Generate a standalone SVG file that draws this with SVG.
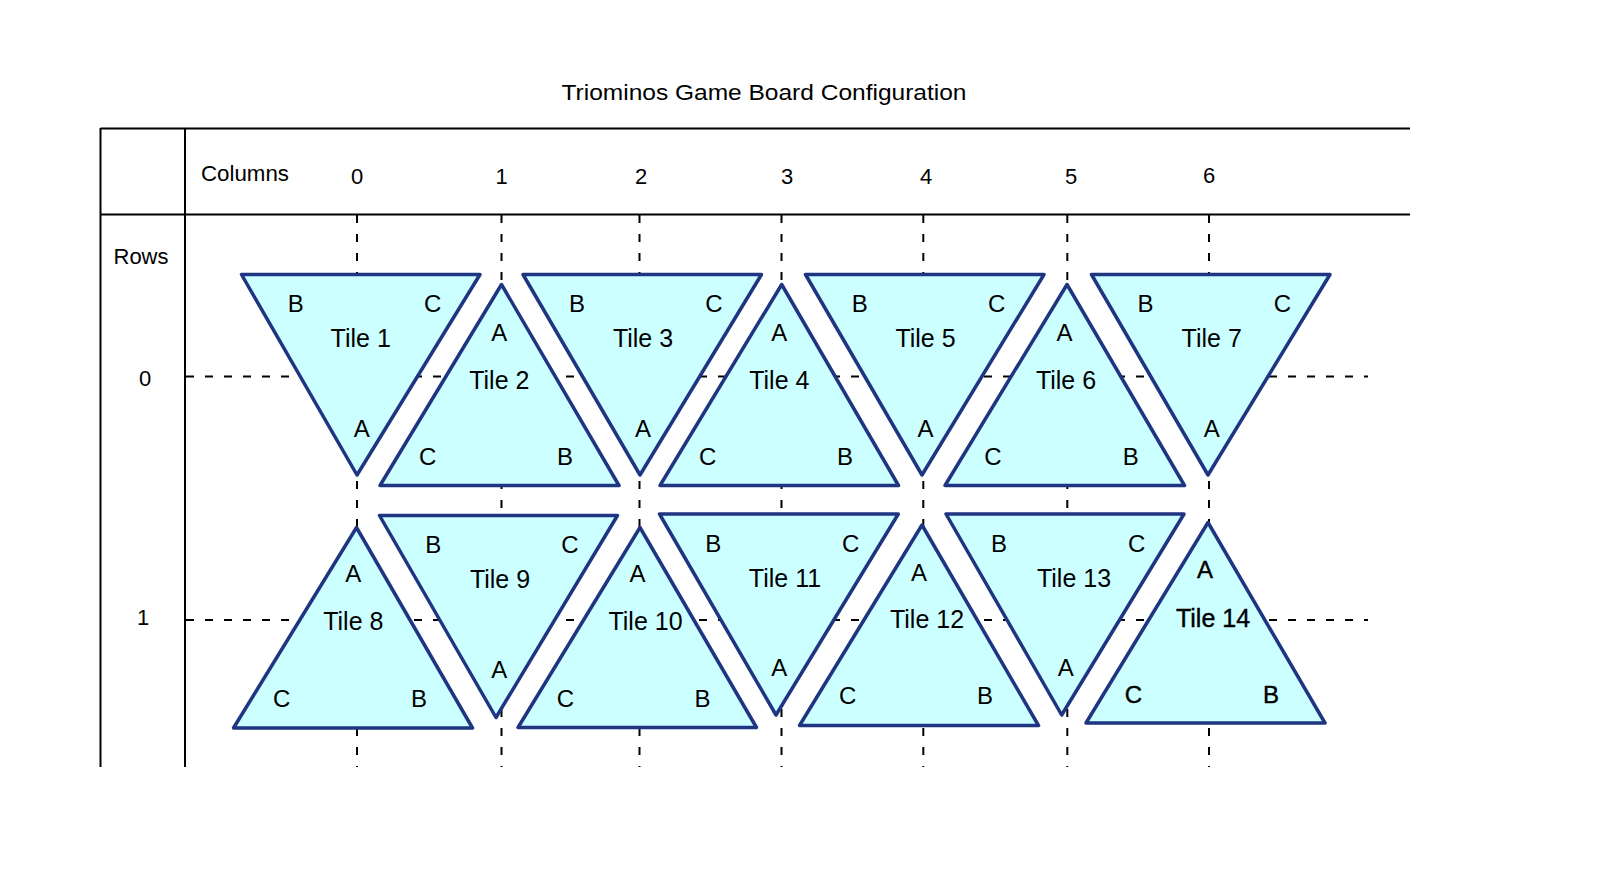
<svg xmlns="http://www.w3.org/2000/svg" width="1618" height="874" viewBox="0 0 1618 874">
<style>
.frame{stroke:#000;stroke-width:2;fill:none}
.dash{stroke:#000;stroke-width:2;fill:none;stroke-dasharray:8 11}
.tri{fill:#CCFFFF;stroke:#1F3582;stroke-width:3.5;stroke-linejoin:round}
.hdr{font-family:"Liberation Sans",Arial,sans-serif;font-size:22px;fill:#000;text-anchor:middle}
.lbl{font-family:"Liberation Sans",Arial,sans-serif;font-size:24px;fill:#000;text-anchor:middle}
.nm{font-family:"Liberation Sans",Arial,sans-serif;font-size:25px;fill:#000;text-anchor:middle}
.bold text{stroke:#000;stroke-width:0.4}
</style>
<rect width="1618" height="874" fill="#fff"/>
<text class="hdr" x="764" y="100" font-size="23" textLength="405" lengthAdjust="spacingAndGlyphs">Triominos Game Board Configuration</text>
<g id="frame">
<line class="frame" x1="100.5" y1="128.5" x2="1410" y2="128.5"/>
<line class="frame" x1="100.5" y1="214.5" x2="1410" y2="214.5"/>
<line class="frame" x1="100.5" y1="128" x2="100.5" y2="767"/>
<line class="frame" x1="185" y1="128" x2="185" y2="767"/>
<text class="hdr" x="245" y="181" textLength="88" lengthAdjust="spacingAndGlyphs">Columns</text>
<text class="hdr" x="357" y="184">0</text>
<text class="hdr" x="501.5" y="184">1</text>
<text class="hdr" x="641" y="184">2</text>
<text class="hdr" x="787" y="184">3</text>
<text class="hdr" x="926" y="184">4</text>
<text class="hdr" x="1071" y="184">5</text>
<text class="hdr" x="1209" y="183">6</text>
<text class="hdr" x="141" y="264" textLength="55" lengthAdjust="spacingAndGlyphs">Rows</text>
<text class="hdr" x="145" y="386">0</text>
<text class="hdr" x="143" y="625">1</text>
</g>
<g id="connectors">
<line class="dash" x1="357" y1="215" x2="357" y2="767"/>
<line class="dash" x1="501.5" y1="215" x2="501.5" y2="767"/>
<line class="dash" x1="639.5" y1="215" x2="639.5" y2="767"/>
<line class="dash" x1="781.5" y1="215" x2="781.5" y2="767"/>
<line class="dash" x1="923.3" y1="215" x2="923.3" y2="767"/>
<line class="dash" x1="1067.3" y1="215" x2="1067.3" y2="767"/>
<line class="dash" x1="1209" y1="215" x2="1209" y2="767"/>
<line class="dash" x1="186" y1="376.5" x2="1368" y2="376.5"/>
<line class="dash" x1="186" y1="620" x2="1368" y2="620"/>
</g>
<g id="tile1">
<polygon class="tri" points="241.5,274.5 480,274.5 357,475"/>
<text class="lbl" x="295.7" y="311.5">B</text><text class="lbl" x="432.7" y="311.5">C</text>
<text class="nm" x="360.7" y="346.5">Tile 1</text><text class="lbl" x="361.7" y="436.5">A</text>
</g>
<g id="tile2">
<polygon class="tri" points="501.5,284.5 619,485.5 380,485.5"/>
<text class="lbl" x="499.3" y="341">A</text><text class="nm" x="499.3" y="389">Tile 2</text>
<text class="lbl" x="427.7" y="464.5">C</text><text class="lbl" x="565" y="464.5">B</text>
</g>
<g id="tile3">
<polygon class="tri" points="523,274.5 761.5,274.5 640,475"/>
<text class="lbl" x="577" y="311.5">B</text><text class="lbl" x="714" y="311.5">C</text>
<text class="nm" x="643" y="346.5">Tile 3</text><text class="lbl" x="643" y="436.5">A</text>
</g>
<g id="tile4">
<polygon class="tri" points="781.7,284.5 898.5,485.5 660,485.5"/>
<text class="lbl" x="779.3" y="341">A</text><text class="nm" x="779.3" y="389">Tile 4</text>
<text class="lbl" x="707.7" y="464.5">C</text><text class="lbl" x="845" y="464.5">B</text>
</g>
<g id="tile5">
<polygon class="tri" points="805.5,274.5 1044,274.5 922,475"/>
<text class="lbl" x="859.7" y="311.5">B</text><text class="lbl" x="996.7" y="311.5">C</text>
<text class="nm" x="925.5" y="346.5">Tile 5</text><text class="lbl" x="925.5" y="436.5">A</text>
</g>
<g id="tile6">
<polygon class="tri" points="1067,284.5 1184.5,485.5 945,485.5"/>
<text class="lbl" x="1064.5" y="341">A</text><text class="nm" x="1066" y="389">Tile 6</text>
<text class="lbl" x="993" y="464.5">C</text><text class="lbl" x="1130.7" y="464.5">B</text>
</g>
<g id="tile7">
<polygon class="tri" points="1091.5,274.5 1330,274.5 1208,475"/>
<text class="lbl" x="1145.5" y="311.5">B</text><text class="lbl" x="1282.3" y="311.5">C</text>
<text class="nm" x="1211.7" y="346.5">Tile 7</text><text class="lbl" x="1211.7" y="436.5">A</text>
</g>
<g id="tile8">
<polygon class="tri" points="356.5,527.5 472.5,728 233.5,728"/>
<text class="lbl" x="353.3" y="582.3">A</text><text class="nm" x="353.3" y="630">Tile 8</text>
<text class="lbl" x="281.7" y="706.7">C</text><text class="lbl" x="419" y="706.7">B</text>
</g>
<g id="tile9">
<polygon class="tri" points="379.5,515.5 617.5,515.5 496,717.5"/>
<text class="lbl" x="433.3" y="553">B</text><text class="lbl" x="570" y="553">C</text>
<text class="nm" x="500" y="588">Tile 9</text><text class="lbl" x="499.3" y="678">A</text>
</g>
<g id="tile10">
<polygon class="tri" points="640,527.5 756.5,727.5 518,727.5"/>
<text class="lbl" x="637.5" y="582">A</text><text class="nm" x="645.5" y="630">Tile 10</text>
<text class="lbl" x="565.5" y="706.5">C</text><text class="lbl" x="702.5" y="706.5">B</text>
</g>
<g id="tile11">
<polygon class="tri" points="659.5,514 898.3,514 776,715"/>
<text class="lbl" x="713.3" y="551.7">B</text><text class="lbl" x="850.7" y="551.7">C</text>
<text class="nm" x="785" y="586.7">Tile 11</text><text class="lbl" x="779.3" y="676">A</text>
</g>
<g id="tile12">
<polygon class="tri" points="922,525 1038.5,725.5 799.5,725.5"/>
<text class="lbl" x="919" y="581">A</text><text class="nm" x="927" y="628.3">Tile 12</text>
<text class="lbl" x="847.7" y="704">C</text><text class="lbl" x="985" y="704">B</text>
</g>
<g id="tile13">
<polygon class="tri" points="946,514 1184,514 1061.7,715"/>
<text class="lbl" x="999" y="551.7">B</text><text class="lbl" x="1136.7" y="551.7">C</text>
<text class="nm" x="1074" y="586.7">Tile 13</text><text class="lbl" x="1065.7" y="676">A</text>
</g>
<g id="tile14" class="bold">
<polygon class="tri" points="1208,522.5 1325,723 1086,723"/>
<text class="lbl" x="1205" y="578.3">A</text><text class="nm" x="1213" y="626.7">Tile 14</text>
<text class="lbl" x="1133.3" y="703.3">C</text><text class="lbl" x="1271" y="703.3">B</text>
</g>
</svg>
